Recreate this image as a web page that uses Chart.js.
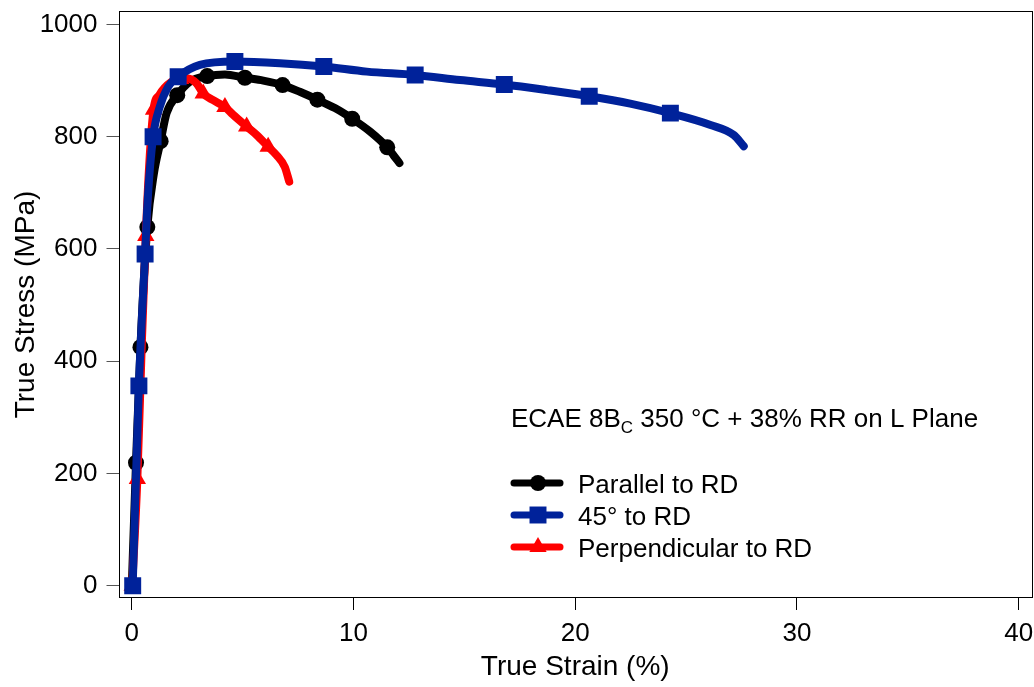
<!DOCTYPE html>
<html>
<head>
<meta charset="utf-8">
<title>True stress - true strain</title>
<script src="https://cdn.jsdelivr.net/npm/chart.js@4.4.0/dist/chart.umd.min.js"></script>
<style>
  html, body { margin: 0; padding: 0; background: #fff; }
  #chart { display: block; }
</style>
</head>
<body>
<canvas id="chart" width="1034" height="687"></canvas>
<script>
// tick values
var strainTicks = [0, 10, 20, 30, 40];
var stressTicks = [0, 200, 400, 600, 800, 1000];

// Parallel to RD
var parStrain = [0.0, 0.19, 0.39, 0.70, 1.0, 1.30, 1.57, 2.05, 2.62, 3.40, 4.20, 5.10, 5.93, 6.80, 7.58, 8.37, 9.16, 9.94, 10.75, 11.52, 11.80, 12.07];
var parStress = [0, 219, 425, 639, 735, 792, 842, 874, 898, 908, 911, 905, 900, 892, 880, 866, 851, 832, 809, 781, 767, 753];
var parMarkStrain = [0.19, 0.39, 0.70, 1.30, 2.05, 3.40, 5.10, 6.80, 8.37, 9.94, 11.52];
var parMarkStress = [219, 425, 639, 792, 874, 908, 905, 892, 866, 832, 781];

// 45° to RD
var degStrain = [0.04, 0.32, 0.60, 0.72, 0.96, 1.26, 1.64, 2.09, 3.07, 4.65, 6.68, 8.66, 10.6, 12.78, 14.8, 16.8, 18.72, 20.63, 22.48, 24.29, 26.1, 27.15, 27.6];
var degStress = [0, 356, 591, 690, 800, 853, 889, 907, 928, 934, 931, 925, 916, 910, 901, 893, 883, 872, 859, 842, 821, 803, 783];
var degMarkStrain = [0.04, 0.32, 0.60, 0.96, 2.09, 4.65, 8.66, 12.78, 16.8, 20.63, 24.29];
var degMarkStress = [0, 356, 591, 800, 907, 934, 925, 910, 893, 872, 842];

// Perpendicular to RD
var perStrain = [0.02, 0.25, 0.45, 0.63, 0.80, 0.98, 1.25, 1.79, 2.20, 2.47, 2.92, 3.22, 3.67, 4.20, 4.57, 5.18, 5.63, 6.15, 6.53, 6.90, 7.10];
var perStress = [0, 190, 430, 623, 760, 848, 875, 898, 903, 904, 895, 877, 865, 853, 839, 818, 803, 782, 767, 746, 720];
var perMarkStrain = [0.02, 0.25, 0.63, 0.98, 2.20, 3.22, 4.20, 5.18, 6.15];
var perMarkStress = [0, 190, 623, 848, 903, 877, 853, 818, 782];

var seriesNames = ['Parallel to RD', '45° to RD', 'Perpendicular to RD'];
var seriesColors = ['#000000', '#00229a', '#ff0000'];
var seriesMarkers = ['circle', 'rect', 'triangle'];
var markerRadius = [8, 12, 10];

function pts(xs, ys) {
  return xs.map(function (x, i) { return { x: x, y: ys[i] }; });
}

function lineSet(xs, ys, k, order) {
  return {
    label: seriesNames[k],
    data: pts(xs, ys),
    showLine: true,
    borderColor: seriesColors[k],
    borderWidth: 8,
    borderCapStyle: 'round',
    borderJoinStyle: 'round',
    cubicInterpolationMode: 'monotone',
    pointRadius: 0,
    pointHoverRadius: 0,
    order: order
  };
}

function markSet(xs, ys, k, order) {
  return {
    label: seriesNames[k] + ' markers',
    data: pts(xs, ys),
    showLine: false,
    pointStyle: seriesMarkers[k],
    pointRadius: markerRadius[k],
    pointBackgroundColor: seriesColors[k],
    pointBorderColor: seriesColors[k],
    pointBorderWidth: 0,
    order: order
  };
}

var FONT = '"Liberation Sans", Arial, sans-serif';

// pin the plot box: top edge at 11px, right edge at 1032px
var areaPlugin = {
  id: 'plotArea',
  afterLayout: function (chart) {
    var a = chart.chartArea;
    a.top = 11;
    a.right = 1032;
    a.width = a.right - a.left;
    a.height = a.bottom - a.top;
    var xs = chart.scales.x, ys = chart.scales.y;
    xs.right = a.right;
    xs.width = a.width;
    xs.configure();
    ys.top = a.top;
    ys.height = a.height;
    ys.configure();
  }
};

// frame box round the plot area
var framePlugin = {
  id: 'frame',
  afterDraw: function (chart) {
    var a = chart.chartArea, ctx = chart.ctx;
    ctx.save();
    ctx.strokeStyle = '#000';
    ctx.lineWidth = 1;
    ctx.strokeRect(Math.round(a.left) + 0.5, Math.round(a.top) + 0.5,
      Math.round(a.right - a.left) - 1, Math.round(a.bottom - a.top) - 1);
    ctx.restore();
  }
};

function drawMarker(ctx, style, r, x, y) {
  ctx.beginPath();
  if (style === 'circle') {
    ctx.arc(x, y, r, 0, Math.PI * 2);
  } else if (style === 'rect') {
    var s = r * Math.SQRT1_2;
    ctx.rect(x - s, y - s, 2 * s, 2 * s);
  } else {
    ctx.moveTo(x, y - r);
    ctx.lineTo(x + Math.sin(Math.PI * 2 / 3) * r, y + r / 2);
    ctx.lineTo(x - Math.sin(Math.PI * 2 / 3) * r, y + r / 2);
    ctx.closePath();
  }
  ctx.fill();
}

// condition note and legend inside the plot
var legendPlugin = {
  id: 'noteLegend',
  afterDraw: function (chart) {
    var ctx = chart.ctx;
    ctx.save();
    ctx.fillStyle = '#000';
    ctx.textBaseline = 'alphabetic';
    ctx.textAlign = 'left';

    var x = 511, y = 427;
    ctx.font = '26px ' + FONT;
    var t1 = 'ECAE 8B';
    ctx.fillText(t1, x, y);
    x += ctx.measureText(t1).width;
    ctx.font = '17px ' + FONT;
    ctx.fillText('C', x, y + 6);
    x += ctx.measureText('C').width;
    ctx.font = '26px ' + FONT;
    ctx.fillText(' 350 °C + 38% RR on L Plane', x, y);

    var rows = [483, 515, 547];
    for (var k = 0; k < 3; k++) {
      var ry = rows[k];
      ctx.strokeStyle = seriesColors[k];
      ctx.fillStyle = seriesColors[k];
      ctx.lineWidth = 7;
      ctx.lineCap = 'round';
      ctx.beginPath();
      ctx.moveTo(514, ry);
      ctx.lineTo(560, ry);
      ctx.stroke();
      drawMarker(ctx, seriesMarkers[k], markerRadius[k], 538, ry);
      ctx.fillStyle = '#000';
      ctx.font = '26px ' + FONT;
      ctx.fillText(seriesNames[k], 578, ry + 10);
    }
    ctx.restore();
  }
};

function plainLabel(v) { return String(v); }

new Chart(document.getElementById('chart'), {
  type: 'scatter',
  data: {
    datasets: [
      lineSet(parStrain, parStress, 0, 6),
      markSet(parMarkStrain, parMarkStress, 0, 5),
      lineSet(perStrain, perStress, 2, 4),
      markSet(perMarkStrain, perMarkStress, 2, 3),
      lineSet(degStrain, degStress, 1, 2),
      markSet(degMarkStrain, degMarkStress, 1, 1)
    ]
  },
  options: {
    responsive: false,
    animation: false,
    devicePixelRatio: 1,
    layout: { padding: { top: 11, right: 2, left: 0, bottom: 0 } },
    plugins: {
      legend: { display: false },
      tooltip: { enabled: false }
    },
    scales: {
      x: {
        type: 'linear',
        min: -0.6,
        max: 40.6,
        afterBuildTicks: function (scale) {
          scale.ticks = strainTicks.map(function (v) { return { value: v }; });
        },
        afterFit: function (scale) { scale.height = 89; },
        border: { display: false },
        grid: { drawOnChartArea: false, drawTicks: true, tickLength: 12, color: '#000', lineWidth: 1 },
        ticks: { color: '#000', padding: 8, maxRotation: 0, callback: plainLabel, font: { family: FONT, size: 26 } },
        title: { display: true, text: 'True Strain (%)', color: '#000', padding: { top: 0, bottom: 3 }, font: { family: FONT, size: 28 } }
      },
      y: {
        type: 'linear',
        min: -22,
        max: 1024,
        afterBuildTicks: function (scale) {
          scale.ticks = stressTicks.map(function (v) { return { value: v }; });
        },
        afterFit: function (scale) { scale.width = 118.5; },
        border: { display: false },
        grid: { drawOnChartArea: false, drawTicks: true, tickLength: 12, color: '#555', lineWidth: 1 },
        ticks: { color: '#000', padding: 9, callback: plainLabel, font: { family: FONT, size: 26 } },
        title: { display: true, text: 'True Stress (MPa)', color: '#000', padding: { top: 9, bottom: 0 }, font: { family: FONT, size: 28 } }
      }
    }
  },
  plugins: [areaPlugin, framePlugin, legendPlugin]
});
</script>
</body>
</html>
